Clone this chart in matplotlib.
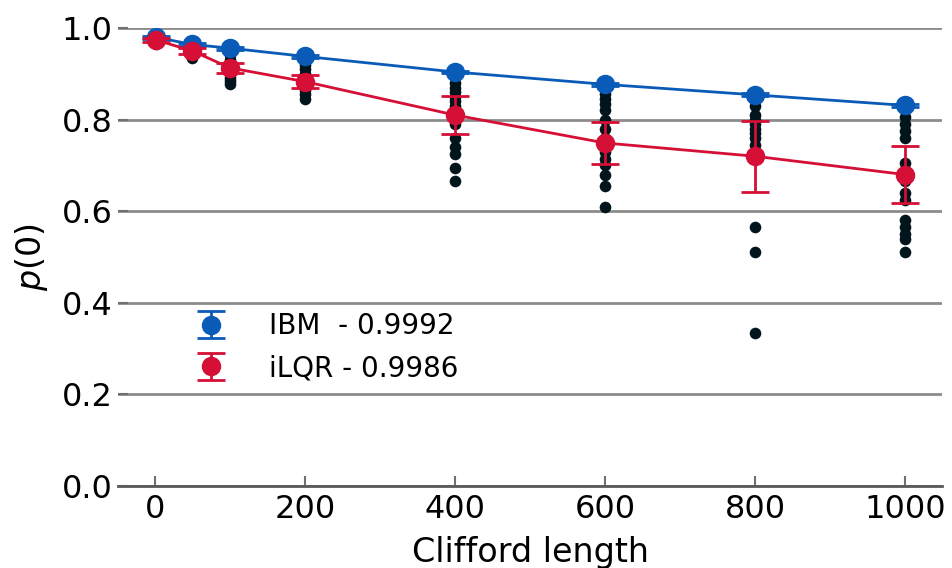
import matplotlib
matplotlib.use("Agg")
import matplotlib.pyplot as plt

# Clifford sequence lengths
LENGTHS = [1, 50, 100, 200, 400, 600, 800, 1000]

# mean survival probabilities
IBM_MEAN = [0.980, 0.964, 0.956, 0.938, 0.904, 0.877, 0.854, 0.831]
IBM_ERR = [0.003, 0.003, 0.003, 0.003, 0.003, 0.003, 0.003, 0.004]
ILQR_MEAN = [0.974, 0.950, 0.913, 0.883, 0.810, 0.749, 0.720, 0.680]
ILQR_ERR = [0.005, 0.006, 0.011, 0.014, 0.042, 0.046, 0.078, 0.062]

LEGEND_LABELS = ["IBM  - 0.9992", "iLQR - 0.9986"]

# individual sequence samples, one list per length
SAMPLES = {
    1: [0.965, 0.970, 0.975, 0.980],
    50: [0.935, 0.940, 0.945, 0.950, 0.955, 0.960],
    100: [0.878, 0.885, 0.890, 0.900, 0.910, 0.920, 0.930, 0.940],
    200: [0.845, 0.855, 0.865, 0.875, 0.890, 0.900, 0.910, 0.920],
    400: [0.880, 0.870, 0.860, 0.850, 0.840, 0.830, 0.820, 0.800, 0.790,
          0.760, 0.740, 0.725, 0.695, 0.665],
    600: [0.865, 0.855, 0.845, 0.835, 0.820, 0.800, 0.780, 0.760, 0.730,
          0.715, 0.700, 0.680, 0.655, 0.610],
    800: [0.840, 0.830, 0.810, 0.800, 0.790, 0.780, 0.770, 0.760, 0.745,
          0.565, 0.510, 0.335],
    1000: [0.805, 0.790, 0.775, 0.760, 0.705, 0.665, 0.640, 0.625, 0.580,
           0.565, 0.550, 0.540, 0.510],
}

BLUE = "#0a5bb8"
RED = "#d50f35"
DOTS = "#02141c"


def main() -> int:
    fig = plt.figure(figsize=(9.52, 5.68), dpi=100)
    ax = fig.add_axes([0.124, 0.1444, 0.866, 0.8063])

    for length, values in SAMPLES.items():
        ax.scatter([length] * len(values), values, s=70, color=DOTS,
                   zorder=2, linewidths=0)

    # connecting curves, drawn separately so the legend shows only the bars
    ax.plot(LENGTHS, IBM_MEAN, color=BLUE, linewidth=2, zorder=3)
    ax.plot(LENGTHS, ILQR_MEAN, color=RED, linewidth=2, zorder=4)

    ax.errorbar(LENGTHS, IBM_MEAN, yerr=IBM_ERR, color=BLUE, fmt="o",
                markersize=13, capsize=10, capthick=2, elinewidth=2,
                zorder=3, label=LEGEND_LABELS[0])
    ax.errorbar(LENGTHS, ILQR_MEAN, yerr=ILQR_ERR, color=RED, fmt="o",
                markersize=13, capsize=10, capthick=2, elinewidth=2,
                zorder=4, label=LEGEND_LABELS[1])

    ax.set_xlim(-49, 1050)
    ax.set_ylim(0, 1.0)
    ax.set_yticks([0.0, 0.2, 0.4, 0.6, 0.8, 1.0])
    ax.set_xticks([0, 200, 400, 600, 800, 1000])
    ax.yaxis.grid(True, color="#8c8c8c", linewidth=2)
    ax.set_axisbelow(True)

    for side in ["top", "right", "left"]:
        ax.spines[side].set_visible(False)
    ax.spines["bottom"].set_color("#5a5a5a")
    ax.spines["bottom"].set_linewidth(2)

    ax.tick_params(axis="both", direction="in", length=7, width=1.5,
                   color="#707070", labelsize=23)
    ax.tick_params(axis="y", pad=4)
    ax.tick_params(axis="x", pad=6)

    ax.set_ylabel("$p(0)$", fontsize=24, labelpad=8)
    ax.set_xlabel("Clifford length", fontsize=24, labelpad=8)

    ax.legend(loc="lower left", bbox_to_anchor=(0.055, 0.172), frameon=False,
              fontsize=20, handletextpad=1.3, labelspacing=0.5,
              handlelength=1.6)

    fig.savefig("out.png", dpi=100)
    plt.close(fig)
    return 0


if __name__ == "__main__":
    raise SystemExit(main())
